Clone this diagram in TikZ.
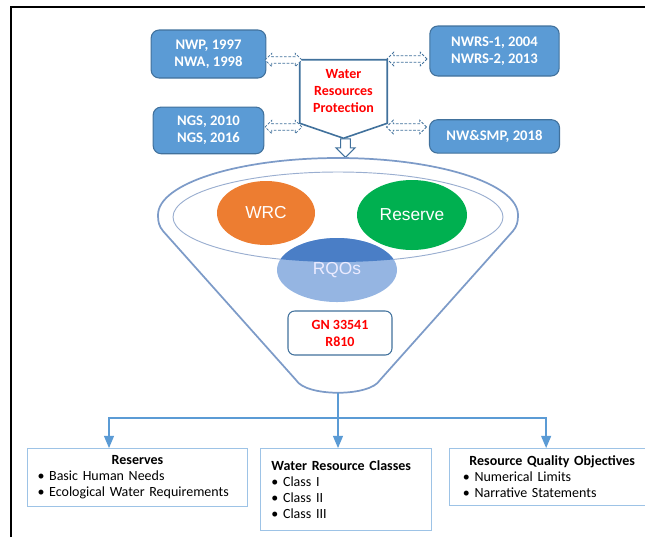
\documentclass[tikz,border=0pt]{standalone}
\usepackage{fontspec}
\setmainfont{Carlito}
\newfontfamily\bubblefont{Liberation Sans}
\usepackage{xcolor}
\usepackage{tikz}
\usetikzlibrary{shapes.geometric, shapes.arrows, arrows, positioning, calc}
\definecolor{boxblue}{HTML}{5B9BD5}
\definecolor{boxedge}{HTML}{41719C}
\definecolor{wrcorange}{HTML}{ED7D31}
\definecolor{resgreen}{HTML}{00B050}
\definecolor{rqodark}{HTML}{4A7EC6}
\definecolor{rqolight}{HTML}{95B5E2}
\definecolor{funnelline}{HTML}{7D9BC8}
\definecolor{rimline}{HTML}{9AAED0}
\definecolor{linkblue}{HTML}{5B9BD5}
\definecolor{panelline}{HTML}{9DC3E6}
\tikzstyle{lawbox} = [rectangle, rounded corners=6pt, draw=boxedge, line width=0.8pt, fill=boxblue, text=white, align=center, font=\bfseries\fontsize{11}{12.75}\selectfont]
\tikzstyle{hollowlink} = [double arrow, draw=boxedge, line width=0.6pt, dash pattern=on 2pt off 1.2pt, fill=white, inner xsep=0pt, inner ysep=2.1pt, double arrow head extend=2.6pt, minimum height=27.5pt]
\tikzstyle{bubble} = [ellipse, inner sep=0pt, text=white, font=\bubblefont\fontsize{13}{15}\selectfont]
\tikzstyle{panel} = [rectangle, draw=panelline, line width=0.8pt, anchor=north west, inner xsep=7.5pt, font=\fontsize{10.5}{12}\selectfont]
\tikzstyle{funnel} = [draw=funnelline, line width=1.3pt]
\tikzstyle{link} = [line width=1.1pt, draw=linkblue]
\tikzstyle{arrow} = [line width=1.1pt, draw=linkblue, ->, >=triangle 45]

\begin{document}
\begin{tikzpicture}[x=0.75pt, y=-0.75pt]
        \useasboundingbox (0,0) rectangle (645,537);
        \draw[line width=1.5pt] (11,537) -- (11,7) -- (645,7);

        % policies and strategies
        \node (nwp) [lawbox, minimum width=86pt, minimum height=36pt] at (208.5,54) {NWP, 1997\\NWA, 1998};
        \node (ngs) [lawbox, minimum width=83pt, minimum height=35pt, below=21pt of nwp] {NGS, 2010\\NGS, 2016};
        \node (nwrs) [lawbox, minimum width=97pt, minimum height=37.5pt] at (494.5,51) {NWRS-1, 2004\\NWRS-2, 2013};
        \node (nwsmp) [lawbox, minimum width=97.5pt, minimum height=25pt, below=32pt of nwrs] {NW\&SMP, 2018};

        \node (prot) [minimum width=65.25pt, minimum height=47.25pt, inner sep=0pt, align=center, text=red, font=\bfseries\fontsize{10.5}{12.75}\selectfont] at (343.5,91.5) {Water\\Resources\\Protection};
        \coordinate (tip) at ($(prot.south)+(0,15)$);
        \draw[draw=boxedge, line width=1.2pt] (prot.north west) -- (prot.north east) -- (prot.south east) -- (tip) -- (prot.south west) -- cycle;
        \node (down) [single arrow, draw=boxedge, fill=white, line width=0.8pt, rotate=-90, anchor=tail, inner xsep=0pt, inner ysep=3.2pt, single arrow head extend=3.6pt, minimum height=14pt] at ($(tip)+(2,0)$) {};

        \node (l1) [hollowlink] at (283.5,60) {};
        \node (l2) [hollowlink] at (283.5,127) {};
        \node (r1) [hollowlink, minimum height=30pt] at (407,59) {};
        \node (r2) [hollowlink, minimum height=30pt] at (406.5,127) {};

        % funnel
        \draw[funnel] (158,215) arc[start angle=180, end angle=360, x radius=180, y radius=57] .. controls (518,222) and (517,226) .. (513,231) -- (380,380) .. controls (370,397) and (306,397) .. (296,380) -- (163,231) .. controls (159,226) and (158,222) .. (158,215);
        \node (rim) [ellipse, draw=rimline, line width=0.7pt, minimum width=247.5pt, minimum height=67.5pt, inner sep=0pt] at (338,217) {};
        \node (wrc) [bubble, fill=wrcorange, minimum width=73.5pt, minimum height=48pt] at (266,213) {WRC};
        \node (reserve) [bubble, fill=resgreen, minimum width=82.5pt, minimum height=52.5pt] at (412,215) {Reserve};
        \node (rqo) [bubble, fill=rqolight, text=white!92!blue, minimum width=90pt, minimum height=48pt, path picture={\fill[rqodark] (rim.center) ellipse [x radius=123.75pt, y radius=33.75pt];}] at (337,270) {RQOs};
        \node (gn) [rectangle, rounded corners=5pt, draw=boxedge, line width=0.8pt, fill=white, minimum width=78pt, minimum height=33pt, align=center, text=red, font=\bfseries\fontsize{10.5}{12.75}\selectfont] at (340,333) {GN 33541\\R810};
        \coordinate (fbot) at (338,393);
        \coordinate (split) at (338,418);

        % outcomes
        \node (resbox) [panel, minimum width=165pt, minimum height=43.5pt, text width=150pt] at (27,448) {{\centering\bfseries Reserves\par}\textbullet\ Basic Human Needs\par\textbullet\ Ecological Water Requirements};
        \node (clsbox) [panel, minimum width=128.25pt, minimum height=61.5pt, text width=112pt, inner xsep=8.1pt, right=9pt of resbox.north east, anchor=north west] {{\bfseries Water Resource Classes\par}\textbullet\ Class I\par\textbullet\ Class II\par\textbullet\ Class III};
        \node (rqobox) [panel, minimum width=153.75pt, minimum height=42.75pt, text width=134pt, inner xsep=9.9pt, right=12.75pt of clsbox.north east, anchor=north west] {{\centering\bfseries Resource Quality Objectives\par}\textbullet\ Numerical Limits\par\textbullet\ Narrative Statements};

        \draw[link] (fbot) -- (split);
        \draw[arrow] (split) -| ($(resbox.north west)+(82,0)$);
        \draw[arrow] (split) -- (split |- clsbox.north);
        \draw[arrow] (split) -| ($(rqobox.north west)+(97,0)$);
    \end{tikzpicture}
\end{document}
